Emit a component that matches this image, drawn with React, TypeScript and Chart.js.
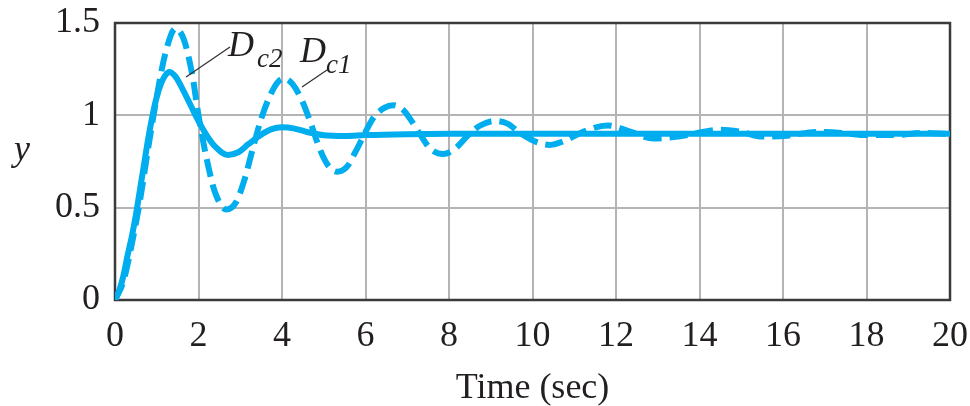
import React, { useEffect, useRef } from "react";
import { Chart, registerables } from "chart.js";

Chart.register(...registerables);

// Dc1 (dashed) step response samples
const dc1T = [0, 0.2, 0.4, 0.6, 0.8, 1.0, 1.2, 1.45, 1.65, 1.85, 2.0, 2.2, 2.4, 2.67, 2.9, 3.1, 3.3, 3.5, 3.7, 3.9, 4.05, 4.25, 4.5, 4.7, 4.9, 5.1, 5.32, 5.55, 5.8, 6.0, 6.2, 6.45, 6.66, 6.9, 7.1, 7.3, 7.55, 7.86, 8.15, 8.45, 8.75, 9.1, 9.4, 9.7, 10.05, 10.42, 10.8, 11.2, 11.8, 12.3, 12.9, 13.5, 14.5, 15.0, 15.5, 16.1, 16.8, 17.4, 18.0, 18.7, 19.3, 20];
const dc1Y = [0, 0.1, 0.3, 0.54, 0.83, 1.1, 1.33, 1.47, 1.41, 1.22, 1.0, 0.76, 0.58, 0.49, 0.53, 0.65, 0.82, 0.98, 1.1, 1.18, 1.2, 1.17, 1.07, 0.95, 0.82, 0.73, 0.695, 0.72, 0.82, 0.91, 0.99, 1.04, 1.055, 1.03, 0.97, 0.9, 0.82, 0.79, 0.82, 0.89, 0.945, 0.97, 0.955, 0.905, 0.86, 0.84, 0.865, 0.91, 0.945, 0.915, 0.875, 0.885, 0.922, 0.91, 0.885, 0.89, 0.91, 0.905, 0.893, 0.893, 0.905, 0.9];

// Dc2 (solid) step response samples
const dc2T = [0, 0.1, 0.2, 0.3, 0.4, 0.5, 0.6, 0.7, 0.8, 0.9, 1.0, 1.1, 1.2, 1.3, 1.45, 1.6, 1.8, 1.95, 2.2, 2.4, 2.7, 2.95, 3.2, 3.5, 3.75, 4.0, 4.3, 4.6, 5.0, 5.5, 6.0, 7.0, 8.0, 10, 12, 14, 16, 18, 20];
const dc2Y = [0, 0.05, 0.13, 0.24, 0.34, 0.46, 0.6, 0.74, 0.88, 1.0, 1.1, 1.17, 1.215, 1.235, 1.21, 1.15, 1.06, 0.99, 0.89, 0.83, 0.785, 0.8, 0.845, 0.895, 0.925, 0.935, 0.928, 0.91, 0.892, 0.888, 0.893, 0.898, 0.9, 0.9, 0.9, 0.9, 0.9, 0.9, 0.9];

const xTicks = [0, 2, 4, 6, 8, 10, 12, 14, 16, 18, 20];
const yTicks = [0, 0.5, 1, 1.5];

const BLUE = "#00adee";
const SERIF = "'Liberation Serif', 'DejaVu Serif', serif";

export default function App() {
  const ref = useRef<HTMLCanvasElement | null>(null);

  useEffect(() => {
    const canvas = ref.current;
    if (!canvas) return;

    const overlay = {
      id: "overlay",
      beforeDatasetsDraw(chart: any) {
        const { ctx, chartArea } = chart;
        ctx.save();
        ctx.strokeStyle = "#3a3a3a";
        ctx.lineWidth = 2.5;
        ctx.strokeRect(chartArea.left, chartArea.top, chartArea.right - chartArea.left, chartArea.bottom - chartArea.top);
        ctx.restore();
      },
      afterDraw(chart: any) {
        const { ctx, chartArea } = chart;
        ctx.save();
        ctx.fillStyle = "#231f20";
        // axis titles
        ctx.font = `36px ${SERIF}`;
        ctx.textAlign = "center";
        ctx.textBaseline = "alphabetic";
        ctx.fillText("Time (sec)", (chartArea.left + chartArea.right) / 2, 398);
        ctx.font = `italic 36px ${SERIF}`;
        ctx.fillText("y", 22, 160);
        // leader lines
        ctx.strokeStyle = "#333";
        ctx.lineWidth = 1.3;
        ctx.beginPath();
        ctx.moveTo(186, 77);
        ctx.lineTo(230, 47);
        ctx.moveTo(302, 87);
        ctx.lineTo(327, 70);
        ctx.stroke();
        // labels
        ctx.textAlign = "left";
        ctx.font = `italic 36px ${SERIF}`;
        ctx.fillText("D", 228, 56);
        ctx.fillText("D", 300, 62);
        ctx.font = `italic 27px ${SERIF}`;
        ctx.fillText("c2", 257, 67);
        ctx.fillText("c1", 326, 73);
        ctx.restore();
      },
    };

    const chart = new Chart(canvas, {
      type: "line",
      data: {
        datasets: [
          {
            label: "Dc2",
            data: dc2T.map((t, i) => ({ x: t, y: dc2Y[i] })),
            borderColor: BLUE,
            borderWidth: 6,
            pointRadius: 0,
            cubicInterpolationMode: "monotone",
            fill: false,
          },
          {
            label: "Dc1",
            data: dc1T.map((t, i) => ({ x: t, y: dc1Y[i] })),
            borderColor: BLUE,
            borderWidth: 6,
            borderDash: [18, 8],
            pointRadius: 0,
            cubicInterpolationMode: "monotone",
            fill: false,
          },
        ],
      },
      options: {
        animation: false,
        responsive: false,
        maintainAspectRatio: false,
        layout: { padding: { top: 23, right: 20, left: 0, bottom: 0 } },
        plugins: { legend: { display: false }, tooltip: { enabled: false } },
        scales: {
          x: {
            type: "linear",
            min: 0,
            max: 20,
            afterFit: (s: any) => { s.height = 106; s.paddingLeft = 0; s.paddingRight = 0; },
            afterBuildTicks: (s: any) => { s.ticks = xTicks.map((v) => ({ value: v })); },
            grid: { color: "#b4b4b4", lineWidth: 2, drawTicks: false },
            border: { display: false },
            ticks: {
              padding: 15,
              color: "#231f20",
              font: { family: SERIF, size: 36 },
              maxRotation: 0,
              autoSkip: false,
            },
          },
          y: {
            type: "linear",
            min: 0,
            max: 1.5,
            afterFit: (s: any) => { s.width = 115; s.paddingTop = 0; s.paddingBottom = 0; },
            afterBuildTicks: (s: any) => { s.ticks = yTicks.map((v) => ({ value: v })); },
            grid: { color: "#b4b4b4", lineWidth: 2, drawTicks: false },
            border: { display: false },
            ticks: {
              padding: 15,
              color: "#231f20",
              font: { family: SERIF, size: 36 },
              autoSkip: false,
              callback: (v: any) => String(v),
            },
          },
        },
      },
      plugins: [overlay],
    });
    return () => chart.destroy();
  }, []);

  return (
    <div style={{ position: "fixed", left: 0, top: 0, width: 970, height: 406, background: "#fff" }}>
      <canvas ref={ref} width={970} height={406} style={{ width: 970, height: 406 }} />
    </div>
  );
}
